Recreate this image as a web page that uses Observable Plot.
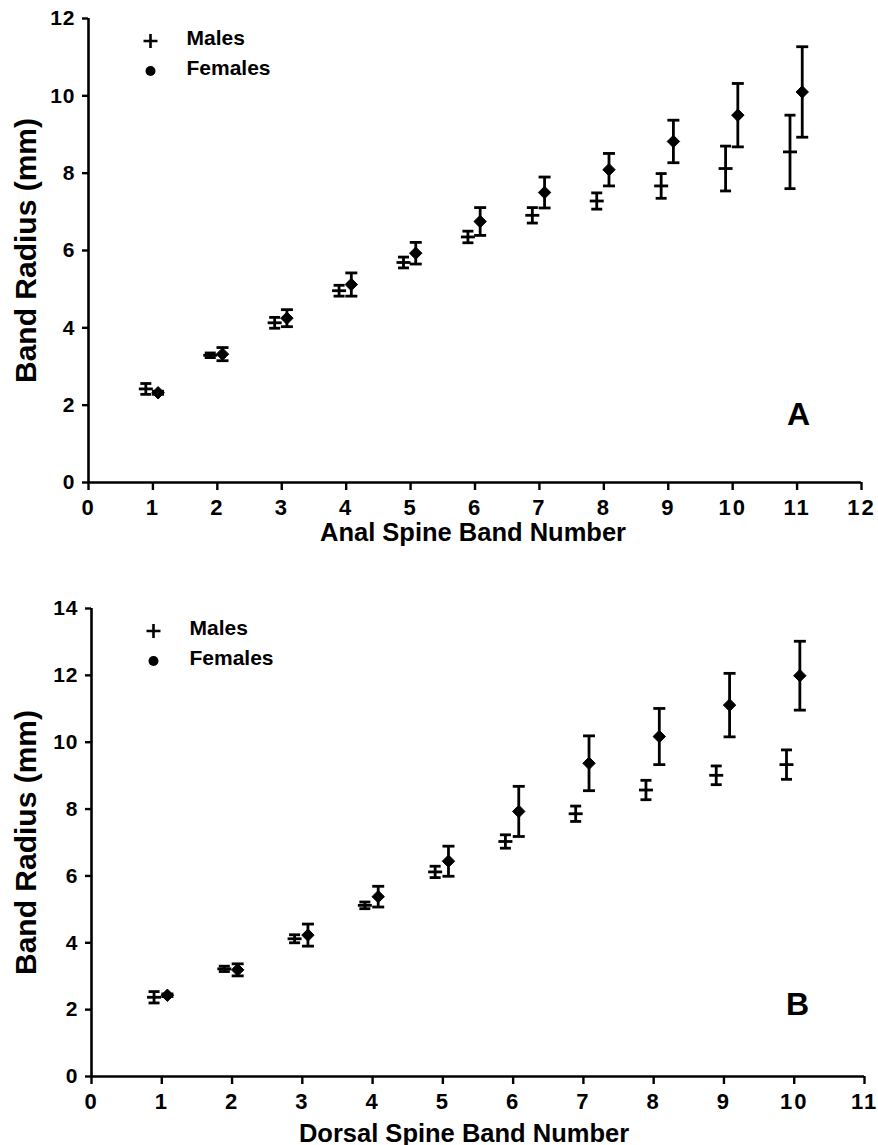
<!DOCTYPE html>
<html><head><meta charset="utf-8">
<script src="https://cdn.jsdelivr.net/npm/d3@7"></script>
<script src="https://cdn.jsdelivr.net/npm/@observablehq/plot@0.6"></script>
<style>
body{margin:0;background:#fff;}
#chart svg{display:block;}
#chart g[aria-label="x-axis tick label"] text{font-size:22px;letter-spacing:2px;}
#chart g[aria-label="y-axis tick label"] text{font-size:21px;letter-spacing:1px;}
</style></head><body><div id="chart"></div>
<script>
// ---------- data ----------
const bandsA = [1, 2, 3, 4, 5, 6, 7, 8, 9, 10, 11];
const maleMeanA = [2.42, 3.29, 4.13, 4.96, 5.69, 6.35, 6.91, 7.28, 7.67, 8.12, 8.55];
const maleErrA = [0.14, 0.06, 0.14, 0.14, 0.14, 0.15, 0.20, 0.21, 0.32, 0.58, 0.95];
const femaleMeanA = [2.32, 3.32, 4.25, 5.12, 5.93, 6.75, 7.50, 8.09, 8.82, 9.50, 10.10];
const femaleErrA = [0.04, 0.17, 0.22, 0.30, 0.28, 0.36, 0.40, 0.42, 0.55, 0.82, 1.17];

const bandsB = [1, 2, 3, 4, 5, 6, 7, 8, 9, 10];
const maleMeanB = [2.37, 3.22, 4.12, 5.12, 6.12, 7.03, 7.86, 8.57, 9.01, 9.33];
const maleErrB = [0.17, 0.08, 0.12, 0.10, 0.17, 0.20, 0.23, 0.29, 0.28, 0.44];
const femaleMeanB = [2.43, 3.19, 4.23, 5.38, 6.44, 7.93, 9.37, 10.17, 11.11, 11.99];
const femaleErrB = [0.04, 0.18, 0.33, 0.31, 0.45, 0.75, 0.82, 0.84, 0.95, 1.03];

const xTicksA = [0, 1, 2, 3, 4, 5, 6, 7, 8, 9, 10, 11, 12];
const yTicksA = [0, 2, 4, 6, 8, 10, 12];
const xTicksB = [0, 1, 2, 3, 4, 5, 6, 7, 8, 9, 10, 11];
const yTicksB = [0, 2, 4, 6, 8, 10, 12, 14];

const legendLabels = ["Males", "Females"];
const xTitleA = "Anal Spine Band Number";
const xTitleB = "Dorsal Spine Band Number";
const yTitle = "Band Radius (mm)";
const panelA = "A", panelB = "B";

// ---------- helpers ----------
const FONT = "'Liberation Sans', Arial, Helvetica, sans-serif";
const MALE_SHIFT = -0.11, FEMALE_SHIFT = 0.08;

const hline = {draw(ctx, size) { const r = Math.sqrt(size / Math.PI); ctx.moveTo(-r, 0); ctx.lineTo(r, 0); }};
const plusSym = {draw(ctx, size) { const r = Math.sqrt(size / Math.PI); ctx.moveTo(-r, 0); ctx.lineTo(r, 0); ctx.moveTo(0, -r); ctx.lineTo(0, r); }};

function rows(bands, mean, err, shift) {
  return bands.map((b, i) => ({x: b + shift, y: mean[i], lo: mean[i] - err[i], hi: mean[i] + err[i]}));
}

function panel(cfg) {
  const males = rows(cfg.bands, cfg.maleMean, cfg.maleErr, MALE_SHIFT);
  const females = rows(cfg.bands, cfg.femaleMean, cfg.femaleErr, FEMALE_SHIFT);
  const sw = 2.8;
  const marks = [
    Plot.ruleX([0], {stroke: "black", strokeWidth: 2.6}),
    Plot.ruleY([0], {stroke: "black", strokeWidth: 2.6}),
    Plot.axisX(cfg.xTicks, {tickSize: 8, tickPadding: 9, strokeWidth: 2.4, fontSize: 22, fontWeight: "bold", label: null, tickFormat: d => String(d)}),
    Plot.axisY(cfg.yTicks, {tickSize: 6, tickPadding: 7, strokeWidth: 2.4, fontSize: 21, fontWeight: "bold", label: null, tickFormat: d => String(d)}),
    // males
    Plot.ruleX(males, {x: "x", y1: "lo", y2: "hi", stroke: "black", strokeWidth: sw}),
    Plot.dot(males, {x: "x", y: "lo", symbol: hline, r: 5.5, stroke: "black", strokeWidth: sw}),
    Plot.dot(males, {x: "x", y: "hi", symbol: hline, r: 5.5, stroke: "black", strokeWidth: sw}),
    Plot.dot(males, {x: "x", y: "y", symbol: hline, r: 7, stroke: "black", strokeWidth: sw}),
    // females
    Plot.ruleX(females, {x: "x", y1: "lo", y2: "hi", stroke: "black", strokeWidth: sw}),
    Plot.dot(females, {x: "x", y: "lo", symbol: hline, r: 6, stroke: "black", strokeWidth: sw}),
    Plot.dot(females, {x: "x", y: "hi", symbol: hline, r: 6, stroke: "black", strokeWidth: sw}),
    Plot.dot(females, {x: "x", y: "y", symbol: "diamond2", r: 5.6, fill: "black", stroke: "black", strokeWidth: 1}),
    // legend
    Plot.dot([0], {frameAnchor: "top-left", dx: 62, dy: 22.5, symbol: plusSym, r: 7, stroke: "black", strokeWidth: 2.6}),
    Plot.dot([0], {frameAnchor: "top-left", dx: 62, dy: 52.5, symbol: "circle", r: 5, fill: "black"}),
    ...legendLabels.map((t, i) => Plot.text([t], {frameAnchor: "top-left", dx: 98, dy: 20 + 30 * i, textAnchor: "start", lineAnchor: "middle", fontSize: 21, fontWeight: "bold"})),
    // titles
    Plot.text([cfg.xTitle], {frameAnchor: "bottom", dx: cfg.xTitleDx, dy: cfg.xTitleDy, textAnchor: "middle", lineAnchor: "middle", fontSize: 25.5, fontWeight: "bold"}),
    Plot.text([yTitle], {frameAnchor: "left", dx: cfg.yTitleDx, dy: 0, rotate: -90, textAnchor: "middle", lineAnchor: "middle", fontSize: 30, fontWeight: "bold", ariaLabel: "y-title"}),
    Plot.text([cfg.letter], {frameAnchor: "bottom-right", dx: cfg.letterDx, dy: cfg.letterDy, textAnchor: "middle", lineAnchor: "middle", fontSize: 32, fontWeight: "bold"})
  ];
  const svg = Plot.plot({
    width: 878, height: cfg.height,
    marginLeft: cfg.ml, marginRight: cfg.mr, marginTop: cfg.mt, marginBottom: cfg.mb,
    x: {domain: cfg.xDomain, axis: null},
    y: {domain: cfg.yDomain, axis: null},
    style: {fontFamily: FONT, fontWeight: "bold", fontSize: "21px", color: "black", background: "white", overflow: "visible"},
    marks
  });
  d3.select(svg).selectAll('g[aria-label="y-title"] text')
    .attr("textLength", cfg.yTitleLen).attr("lengthAdjust", "spacingAndGlyphs");
  return svg;
}

const A = panel({
  bands: bandsA, maleMean: maleMeanA, maleErr: maleErrA, femaleMean: femaleMeanA, femaleErr: femaleErrA,
  xTicks: xTicksA, yTicks: yTicksA, xDomain: [0, 12], yDomain: [0, 12],
  height: 572, ml: 88, mr: 17, mt: 18, mb: 90,
  xTitle: xTitleA, xTitleDx: -2, xTitleDy: 50, yTitleDx: -62, yTitleLen: 294,
  letter: panelA, letterDx: -63, letterDy: -68
});
const B = panel({
  bands: bandsB, maleMean: maleMeanB, maleErr: maleErrB, femaleMean: femaleMeanB, femaleErr: femaleErrB,
  xTicks: xTicksB, yTicks: yTicksB, xDomain: [0, 11], yDomain: [0, 14],
  height: 573, ml: 91, mr: 14, mt: 36, mb: 69,
  xTitle: xTitleB, xTitleDx: -14, xTitleDy: 57, yTitleDx: -65, yTitleLen: 290,
  letter: panelB, letterDx: -67, letterDy: -72
});
document.getElementById("chart").append(A, B);
</script></body></html>
